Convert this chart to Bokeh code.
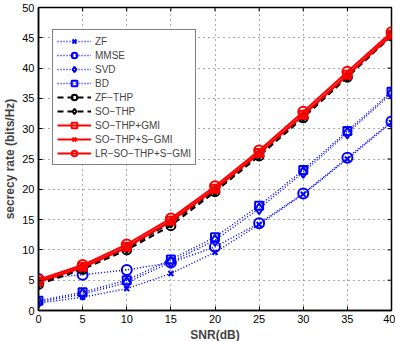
import math
from bokeh.plotting import figure
from bokeh.models import Range1d, FixedTicker, Legend, LegendItem
from bokeh.embed import file_html
from bokeh.resources import INLINE

snr = [0, 5, 10, 15, 20, 25, 30, 35, 40]
zf = [1.2, 2.2, 3.6, 6.1, 9.6, 14.2, 19.2, 25.0, 31.0]
mmse = [5.2, 5.9, 6.7, 7.9, 10.5, 14.4, 19.3, 25.2, 31.2]
svd = [1.4, 2.7, 4.6, 8.0, 11.6, 16.8, 22.8, 29.3, 35.8]
bd = [1.6, 3.0, 5.0, 8.4, 12.1, 17.3, 23.2, 29.6, 36.1]
zf_thp = [4.3, 6.8, 10.0, 14.0, 19.6, 25.5, 31.8, 38.5, 45.3]
so_thp = [4.5, 7.0, 10.3, 14.5, 19.8, 25.8, 32.1, 38.7, 45.4]
so_gmi = [4.8, 7.2, 10.5, 14.8, 20.1, 26.0, 32.3, 38.9, 45.5]
so_sgmi = [4.7, 7.1, 10.4, 14.7, 20.0, 25.9, 32.2, 38.8, 45.4]
lr_sgmi = [5.1, 7.5, 10.9, 15.2, 20.5, 26.4, 32.8, 39.4, 45.9]

x_ticks = [0, 5, 10, 15, 20, 25, 30, 35, 40]
y_ticks = [0, 5, 10, 15, 20, 25, 30, 35, 40, 45, 50]
X_MIN, X_MAX, Y_MIN, Y_MAX = 0, 40, 0, 50

FONT = "Liberation Sans"

p = figure(frame_width=353, frame_height=303, output_backend="svg",
           toolbar_location=None, x_range=Range1d(X_MIN, X_MAX), y_range=Range1d(Y_MIN, Y_MAX),
           min_border_left=4, min_border_right=4, min_border_top=7, min_border_bottom=2)

p.outline_line_color = "black"
p.outline_line_width = 1.5

for ax in (p.xaxis[0], p.yaxis[0]):
    ax.major_label_text_font = FONT
    ax.major_label_text_font_size = "11px"
    ax.major_label_text_color = "black"
    ax.axis_label_text_font = FONT
    ax.axis_label_text_font_size = "12px"
    ax.axis_label_text_font_style = "bold"
    ax.major_tick_in = 4
    ax.major_tick_out = 0
    ax.minor_tick_in = 0
    ax.minor_tick_out = 0
    ax.axis_line_width = 1.5
    ax.major_label_standoff = 4
    ax.axis_label_standoff = 2

p.xaxis.ticker = FixedTicker(ticks=x_ticks)
p.yaxis.ticker = FixedTicker(ticks=y_ticks)
p.xaxis.axis_label = "SNR(dB)"
p.yaxis.axis_label = "secrecy rate (bits/Hz)"

# inward ticks on the top and right edges of the box
p.ray(x=x_ticks, y=[Y_MAX] * len(x_ticks), length=4, length_units="screen",
      angle=-math.pi / 2, line_color="black", line_width=1)
p.ray(x=[X_MAX] * len(y_ticks), y=y_ticks, length=4, length_units="screen",
      angle=math.pi, line_color="black", line_width=1)

p.xgrid.ticker = FixedTicker(ticks=x_ticks)
p.ygrid.ticker = FixedTicker(ticks=y_ticks)
for g in (p.xgrid[0], p.ygrid[0]):
    g.grid_line_color = "#555555"
    g.grid_line_dash = "1 4"
    g.grid_line_width = 1

items = []

def series(y, color, dash, width, marker, name, msize=9):
    r1 = p.line(snr, y, line_color=color, line_dash=dash, line_width=width)
    r2 = p.scatter(snr, y, marker=marker, size=msize, line_color=color,
                   fill_color=None, line_width=2)
    items.append(LegendItem(label=name, renderers=[r1, r2]))

blue = "#0000ff"
series(zf, blue, "1 2", 1.5, "x", "ZF", 7)
series(mmse, blue, "1 2", 1.5, "circle", "MMSE", 10)
series(svd, blue, "1 2", 1.5, "diamond", "SVD", 11)
series(bd, blue, "1 2", 1.5, "square", "BD", 8)
series(zf_thp, "black", "6 4", 2, "circle", "ZF\u2212THP")
series(so_thp, "black", "6 4", 2, "diamond", "SO\u2212THP", 10)
series(so_gmi, "red", "solid", 2, "square", "SO\u2212THP+GMI", 8)
series(so_sgmi, "red", "solid", 2, "x", "SO\u2212THP+S\u2212GMI", 7)
series(lr_sgmi, "red", "solid", 2, "circle", "LR\u2212SO\u2212THP+S\u2212GMI", 10)

leg = Legend(items=items, location=(14, 145), spacing=0, padding=4,
             glyph_width=34, glyph_height=14, label_height=14, label_standoff=4,
             label_text_font=FONT, label_text_font_size="10px",
             border_line_color="black", border_line_width=1.5,
             background_fill_alpha=1, margin=0)
p.add_layout(leg, "center")

open("out.html", "w").write(file_html(p, INLINE))
